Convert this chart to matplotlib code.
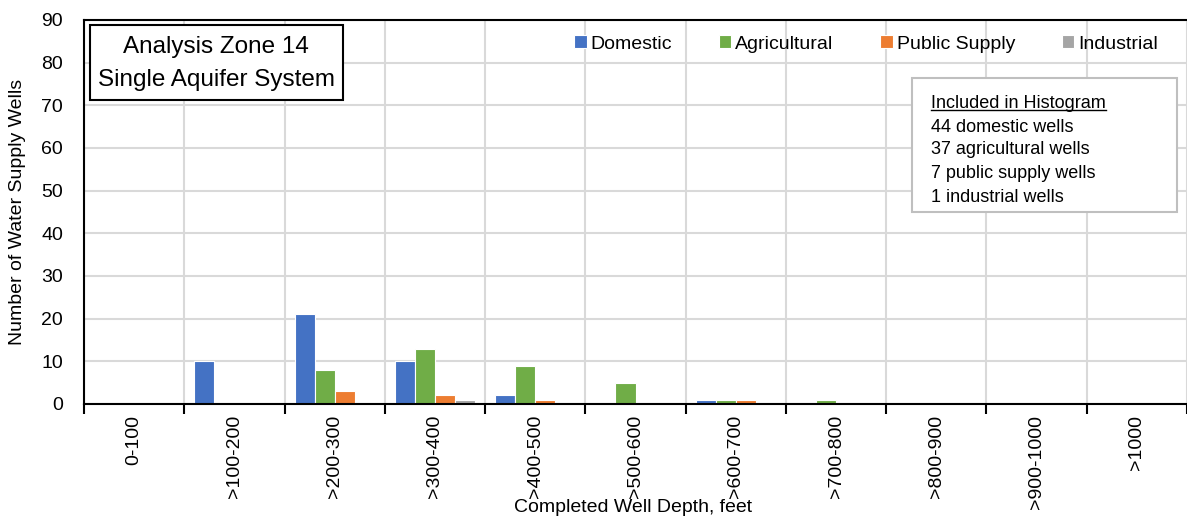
import numpy as np
import matplotlib
matplotlib.use("Agg")
import matplotlib.pyplot as plt
from matplotlib.patches import Rectangle
from matplotlib.lines import Line2D

plt.rcParams['font.family'] = ['Liberation Sans', 'DejaVu Sans']

# Well-depth bins and well counts per use type
depth_bins = ["0-100", ">100-200", ">200-300", ">300-400", ">400-500", ">500-600",
              ">600-700", ">700-800", ">800-900", ">900-1000", ">1000"]
domestic = [0, 10, 21, 10, 2, 0, 1, 0, 0, 0, 0]
agricultural = [0, 0, 8, 13, 9, 5, 1, 1, 0, 0, 0]
public_supply = [0, 0, 3, 2, 1, 0, 1, 0, 0, 0, 0]
industrial = [0, 0, 0, 1, 0, 0, 0, 0, 0, 0, 0]
series_names = ["Domestic", "Agricultural", "Public Supply", "Industrial"]
series_colors = ["#4472C4", "#70AD47", "#ED7D31", "#A5A5A5"]
y_ticks = list(range(0, 91, 10))

W, H = 1187, 523
fig = plt.figure(figsize=(W / 100, H / 100), dpi=100)
ax = fig.add_axes([84 / W, 1 - 404 / H, 1 - 84 / W, 384 / H])

x = np.arange(len(depth_bins))
bar_w = 0.2
all_series = [domestic, agricultural, public_supply, industrial]
handles = []
for i, (vals, name, color) in enumerate(zip(all_series, series_names, series_colors)):
    b = ax.bar(x + (i - 1.5) * bar_w, vals, bar_w, color=color, edgecolor='white',
               linewidth=0.8, label=name, zorder=3)
    handles.append(b)

ax.set_xlim(-0.5, len(depth_bins) - 0.5)
ax.set_ylim(0, 90)
ax.set_yticks(y_ticks)
ax.tick_params(axis='y', length=0, pad=15, labelsize=14)

# bin boundaries carry the tick marks and grid; bin centres carry the labels
ax.set_xticks(np.arange(len(depth_bins) + 1) - 0.5)
ax.set_xticklabels([])
ax.set_xticks(x, minor=True)
ax.set_xticklabels(depth_bins, minor=True, rotation=90, fontsize=14)
ax.tick_params(axis='x', which='major', length=7, width=1.5, color='black', direction='out')
ax.tick_params(axis='x', which='minor', length=0, pad=8)

ax.grid(True, which='major', color='#d9d9d9', linewidth=1.5, zorder=0)
ax.set_axisbelow(True)
for side in ['left', 'bottom', 'top']:
    ax.spines[side].set_color('black')
    ax.spines[side].set_linewidth(1.5)
    ax.spines[side].set_zorder(4)
ax.spines['right'].set_visible(False)

fig.text(18 / W, 1 - 212 / H, "Number of Water Supply Wells", rotation=90,
         ha='center', va='center', fontsize=14)
fig.text(633 / W, 1 - 508 / H, "Completed Well Depth, feet",
         ha='center', va='center', fontsize=14)

fig.legend(handles=handles, labels=series_names, loc='center left',
           bbox_to_anchor=(574 / W, 1 - 44 / H), ncol=4, frameon=False, fontsize=14,
           handlelength=0.65, handleheight=0.65, handletextpad=0.2,
           columnspacing=2.4, borderpad=0, borderaxespad=0)

# Title box
fig.add_artist(Rectangle((90 / W, 1 - 100 / H), 253 / W, 75 / H, transform=fig.transFigure,
                         facecolor='white', edgecolor='black', linewidth=1.5, zorder=5))
fig.text(216 / W, 1 - 47 / H, "Analysis Zone 14", ha='center', va='center',
         fontsize=17.5, zorder=6)
fig.text(216 / W, 1 - 80 / H, "Single Aquifer System", ha='center', va='center',
         fontsize=17.5, zorder=6)

# Summary box
fig.add_artist(Rectangle((912 / W, 1 - 212 / H), 265 / W, 134 / H, transform=fig.transFigure,
                         facecolor='white', edgecolor='#bfbfbf', linewidth=1.5, zorder=5))
summary = [
    "Included in Histogram",
    f"{sum(domestic)} domestic wells",
    f"{sum(agricultural)} agricultural wells",
    f"{sum(public_supply)} public supply wells",
    f"{sum(industrial)} industrial wells",
]
line_y = [103, 127, 150, 174, 198]
texts = []
for s, yy in zip(summary, line_y):
    texts.append(fig.text(931 / W, 1 - yy / H, s, ha='left', va='center',
                          fontsize=13, zorder=6))

fig.canvas.draw()
renderer = fig.canvas.get_renderer()
bb = texts[0].get_window_extent(renderer)
inv = fig.transFigure.inverted()
(x0, y0), (x1, _) = inv.transform([(bb.x0, bb.y0 + 2), (bb.x1, bb.y0 + 2)])
fig.add_artist(Line2D([x0, x1], [y0, y0], transform=fig.transFigure,
                      color='black', linewidth=1.0, zorder=6))

fig.savefig("out.png", dpi=100)
